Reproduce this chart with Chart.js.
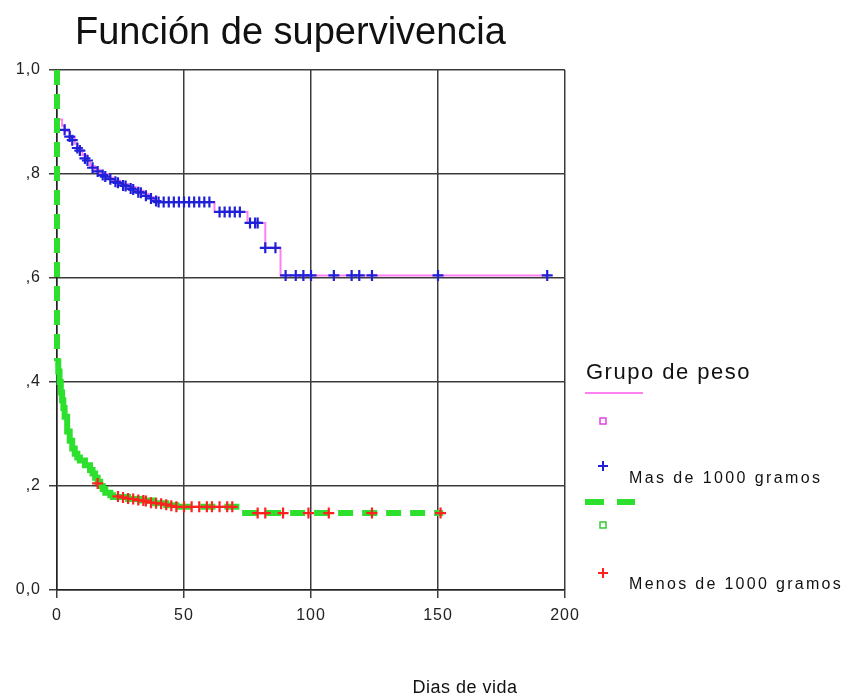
<!DOCTYPE html>
<html lang="es">
<head>
<meta charset="UTF-8">
<title>Función de supervivencia</title>
<script src="https://cdn.jsdelivr.net/npm/chart.js"></script>
<style>
  html, body { margin: 0; padding: 0; background: #fff; }
  #wrap { width: 852px; height: 696px; }
</style>
</head>
<body>
<div id="wrap"><canvas id="km" width="852" height="696"></canvas></div>
<script>
// Textos
const titleText = 'Función de supervivencia';
const xTitle = 'Dias de vida';
const legendTitle = 'Grupo de peso';
const groupNames = ['Mas de 1000 gramos', 'Menos de 1000 gramos'];

// Ejes
const xTicks = [0, 50, 100, 150, 200];
const yTickLabels = ['0,0', ',2', ',4', ',6', ',8', '1,0'];

// Mas de 1000 gramos: curva escalonada (dias, supervivencia)
const masTimes = [0, 2, 3, 5, 7, 8, 10, 12, 13, 15, 17, 20, 22, 25, 28, 31, 34, 36, 38, 39, 62, 75, 82, 88, 193];
const masSurv  = [0.905, 0.893, 0.882, 0.870, 0.858, 0.847, 0.836, 0.825, 0.815, 0.808, 0.800, 0.793, 0.787, 0.781, 0.775, 0.768, 0.762, 0.756, 0.750, 0.746, 0.727, 0.706, 0.658, 0.605, 0.605];
// Mas de 1000 gramos: censurados
const masCensTimes = [3, 5, 6, 8, 9, 11, 12, 14, 16, 18, 19, 21, 23, 24, 26, 27, 29, 30, 32, 33, 35, 37, 39, 40, 42, 44, 46, 48, 50, 52, 54, 56, 58, 60, 64, 66, 68, 70, 72, 76, 78, 79, 82, 86, 90, 94, 97, 100, 109, 116, 119, 124, 150, 193];
const masCensSurv  = [0.885, 0.872, 0.865, 0.850, 0.845, 0.830, 0.826, 0.812, 0.805, 0.798, 0.795, 0.790, 0.785, 0.783, 0.778, 0.777, 0.772, 0.770, 0.765, 0.764, 0.758, 0.753, 0.748, 0.746, 0.746, 0.746, 0.746, 0.746, 0.746, 0.746, 0.746, 0.746, 0.746, 0.746, 0.727, 0.727, 0.727, 0.727, 0.727, 0.706, 0.706, 0.706, 0.658, 0.658, 0.605, 0.605, 0.605, 0.605, 0.605, 0.605, 0.605, 0.605, 0.605, 0.605];

// Menos de 1000 gramos: curva escalonada
const menosTimes = [0, 0, 0.5, 1, 1.5, 2, 2.5, 3, 4, 5, 6, 7, 8, 9, 11, 13, 14, 15, 16, 17, 18, 19, 21, 22, 28, 33, 38, 43, 47, 72, 152];
const menosSurv  = [1.0, 0.44, 0.42, 0.40, 0.38, 0.365, 0.35, 0.333, 0.305, 0.287, 0.272, 0.262, 0.255, 0.249, 0.240, 0.231, 0.224, 0.216, 0.208, 0.200, 0.194, 0.187, 0.182, 0.179, 0.175, 0.172, 0.167, 0.163, 0.160, 0.148, 0.148];
// Menos de 1000 gramos: censurados
const menosCensTimes = [16, 24, 26, 28, 30, 32, 34, 35, 37, 39, 41, 43, 45, 47, 50, 53, 56, 59, 61, 64, 67, 69, 79, 82, 89, 99, 107, 124, 151];
const menosCensSurv  = [0.205, 0.180, 0.178, 0.176, 0.175, 0.173, 0.172, 0.171, 0.168, 0.167, 0.166, 0.164, 0.162, 0.160, 0.160, 0.160, 0.160, 0.160, 0.160, 0.160, 0.160, 0.160, 0.148, 0.148, 0.148, 0.148, 0.148, 0.148, 0.148];

const pts = (xs, ys) => xs.map((x, i) => ({ x: x, y: ys[i] }));

const FONT = '"Liberation Sans", Arial, sans-serif';
const PINK = '#ff80f0';
const BLUE = '#2020d8';
const GREEN = '#2ee02e';
const RED = '#ff2020';

// espaciado de letras para las etiquetas de los ejes
const spacing = {
  id: 'spacing',
  beforeDraw(chart) { chart.ctx.letterSpacing = '1px'; },
  afterDraw(chart) { chart.ctx.letterSpacing = '0px'; }
};

// Titulo, etiqueta del eje x y leyenda
const decor = {
  id: 'decor',
  afterDraw(chart) {
    const ctx = chart.ctx;
    ctx.save();
    ctx.letterSpacing = '0px';
    ctx.fillStyle = '#111';
    ctx.textBaseline = 'alphabetic';
    ctx.font = '38px ' + FONT;
    ctx.fillText(titleText, 75, 44);

    ctx.font = '18px ' + FONT;
    ctx.letterSpacing = '0.5px';
    ctx.textAlign = 'center';
    ctx.fillText(xTitle, 465, 693);

    // leyenda
    ctx.textAlign = 'left';
    ctx.font = '22px ' + FONT;
    ctx.letterSpacing = '1.5px';
    ctx.fillText(legendTitle, 586, 379);

    ctx.strokeStyle = PINK; ctx.lineWidth = 2;
    ctx.beginPath(); ctx.moveTo(585, 393); ctx.lineTo(643, 393); ctx.stroke();
    ctx.strokeStyle = '#e040e0'; ctx.lineWidth = 1.5;
    ctx.strokeRect(600, 418, 6, 6);

    const cross = (x, y, c) => {
      ctx.strokeStyle = c; ctx.lineWidth = 2;
      ctx.beginPath();
      ctx.moveTo(x - 5, y); ctx.lineTo(x + 5, y);
      ctx.moveTo(x, y - 5); ctx.lineTo(x, y + 5);
      ctx.stroke();
    };
    cross(603, 466, BLUE);
    ctx.font = '16px ' + FONT;
    ctx.letterSpacing = '2.4px';
    ctx.fillText(groupNames[0], 629, 483);

    ctx.strokeStyle = GREEN; ctx.lineWidth = 6;
    ctx.beginPath();
    ctx.moveTo(585, 502); ctx.lineTo(604, 502);
    ctx.moveTo(617, 502); ctx.lineTo(635, 502);
    ctx.stroke();
    ctx.strokeStyle = '#33cc33'; ctx.lineWidth = 1.5;
    ctx.strokeRect(600, 522, 6, 6);

    cross(603, 573, RED);
    ctx.letterSpacing = '2.3px';
    ctx.fillText(groupNames[1], 629, 589);
    ctx.restore();
  }
};

new Chart(document.getElementById('km'), {
  type: 'scatter',
  data: {
    datasets: [
      {
        label: groupNames[1] + ' censurado',
        data: pts(menosCensTimes, menosCensSurv),
        showLine: false,
        pointStyle: 'cross',
        pointRadius: 5.5,
        borderColor: RED,
        backgroundColor: RED,
        pointBorderWidth: 2.2,
        clip: false
      },
      {
        label: groupNames[1],
        data: pts(menosTimes, menosSurv),
        showLine: true,
        stepped: true,
        borderColor: GREEN,
        borderWidth: 6,
        borderDash: [15, 9],
        // tramos cortos se ven continuos, los largos discontinuos
        segment: {
          borderDash: c => {
            const len = Math.abs(c.p1.x - c.p0.x) + Math.abs(c.p1.y - c.p0.y);
            return len < 40 ? [] : [15, 9];
          }
        },
        pointRadius: 0,
        clip: false
      },
      {
        label: groupNames[0] + ' censurado',
        data: pts(masCensTimes, masCensSurv),
        showLine: false,
        pointStyle: 'cross',
        pointRadius: 5.5,
        borderColor: BLUE,
        backgroundColor: BLUE,
        pointBorderWidth: 2.2,
        clip: false
      },
      {
        label: groupNames[0],
        data: pts(masTimes, masSurv),
        showLine: true,
        stepped: true,
        borderColor: PINK,
        borderWidth: 2,
        pointRadius: 0,
        clip: false
      }
    ]
  },
  options: {
    responsive: false,
    animation: false,
    events: [],
    layout: { padding: { left: 0, right: 287, top: 70, bottom: 0 } },
    plugins: {
      legend: { display: false },
      tooltip: { enabled: false },
      title: { display: false }
    },
    scales: {
      x: {
        type: 'linear',
        min: 0,
        max: 200,
        afterBuildTicks: s => { s.ticks = xTicks.map(v => ({ value: v })); },
        afterFit: s => { s.height = 106; },
        grid: { color: '#3c3c3c', lineWidth: 1.5, tickLength: 8 },
        border: { color: '#222', width: 1.5 },
        ticks: { color: '#222', padding: 8, font: { family: FONT, size: 16 } }
      },
      y: {
        type: 'linear',
        min: 0,
        max: 1,
        ticks: {
          stepSize: 0.2,
          color: '#222',
          padding: 8,
          font: { family: FONT, size: 16 },
          callback: (v, i) => yTickLabels[i]
        },
        afterFit: s => { s.width = 57; },
        grid: { color: '#3c3c3c', lineWidth: 1.5, tickLength: 8 },
        border: { color: '#222', width: 1.5 }
      }
    }
  },
  plugins: [spacing, decor]
});
</script>
</body>
</html>
